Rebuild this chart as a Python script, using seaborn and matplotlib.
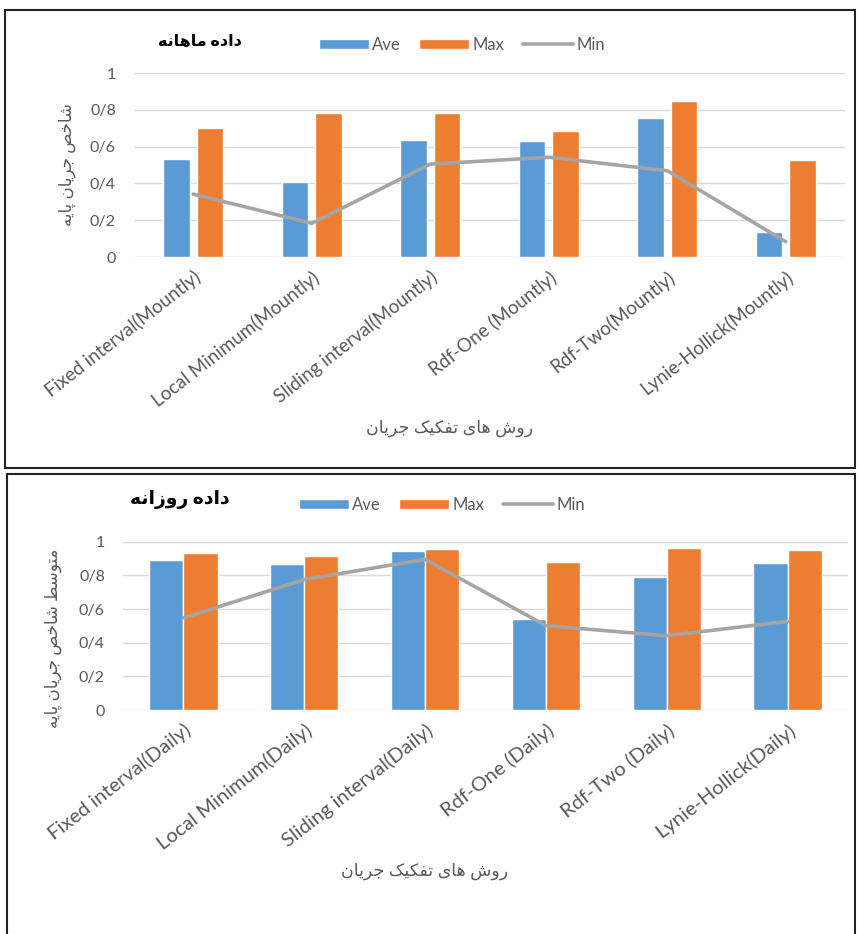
import numpy as np
import pandas as pd
import matplotlib
matplotlib.use("Agg")
import matplotlib.pyplot as plt
import seaborn as sns
from matplotlib.patches import Patch, Rectangle
from matplotlib.lines import Line2D

# values
monthly_methods = ["Fixed interval(Mountly)", "Local Minimum(Mountly)", "Sliding interval(Mountly)",
                   "Rdf-One (Mountly)", "Rdf-Two(Mountly)", "Lynie-Hollick(Mountly)"]
monthly_ave = [0.53, 0.41, 0.635, 0.63, 0.755, 0.135]
monthly_max = [0.70, 0.785, 0.78, 0.686, 0.848, 0.525]
monthly_min = [0.342, 0.183, 0.505, 0.542, 0.469, 0.083]

daily_methods = ["Fixed interval(Daily)", "Local Minimum(Daily)", "Sliding interval(Daily)",
                 "Rdf-One (Daily)", "Rdf-Two (Daily)", "Lynie-Hollick(Daily)"]
daily_ave = [0.889, 0.865, 0.942, 0.543, 0.789, 0.873]
daily_max = [0.934, 0.918, 0.958, 0.881, 0.964, 0.950]
daily_min = [0.547, 0.775, 0.895, 0.501, 0.441, 0.527]

yticks = [0, 0.2, 0.4, 0.6, 0.8, 1]
ytick_labels = ["0", "0/2", "0/4", "0/6", "0/8", "1"]
series_names = ["Ave", "Max", "Min"]

monthly_title = "داده ماهانه"
daily_title = "داده روزانه"
monthly_ylabel = "شاخص جریان پایه"
daily_ylabel = "متوسط شاخص جریان پایه"
xlabel_fa = "روش های تفکیک جریان"

BLUE = "#5B9BD5"
ORANGE = "#ED7D31"
GRAY = "#A5A5A5"
TXT = "#595959"

# matplotlib has no arabic shaping, so pick presentation forms by hand
# (isolated, final[, initial, medial])
FORMS = {
    "ا": "\uFE8D\uFE8E", "د": "\uFEA9\uFEAA", "ر": "\uFEAD\uFEAE",
    "ز": "\uFEAF\uFEB0", "و": "\uFEED\uFEEE",
    "ه": "\uFEE9\uFEEA\uFEEB\uFEEC", "م": "\uFEE1\uFEE2\uFEE3\uFEE4",
    "ن": "\uFEE5\uFEE6\uFEE7\uFEE8", "ش": "\uFEB5\uFEB6\uFEB7\uFEB8",
    "خ": "\uFEA5\uFEA6\uFEA7\uFEA8", "ص": "\uFEB9\uFEBA\uFEBB\uFEBC",
    "ج": "\uFE9D\uFE9E\uFE9F\uFEA0", "\u06CC": "\uFBFC\uFBFD\uFBFE\uFBFF",
    "پ": "\uFB56\uFB57\uFB58\uFB59", "ت": "\uFE95\uFE96\uFE97\uFE98",
    "س": "\uFEB1\uFEB2\uFEB3\uFEB4", "ط": "\uFEC1\uFEC2\uFEC3\uFEC4",
    "ف": "\uFED1\uFED2\uFED3\uFED4", "\u06A9": "\uFB8E\uFB8F\uFB90\uFB91",
}


def fa(text):
    text = text.replace("\u064A", "\u06CC").replace("\u0643", "\u06A9")
    out = []
    for i, ch in enumerate(text):
        if ch not in FORMS:
            out.append(ch)
            continue
        f = FORMS[ch]
        prev = text[i - 1] if i > 0 else ""
        nxt = text[i + 1] if i + 1 < len(text) else ""
        jp = prev in FORMS and len(FORMS[prev]) == 4
        jn = len(f) == 4 and nxt in FORMS
        if jp and jn:
            out.append(f[3])
        elif jp:
            out.append(f[1])
        elif jn:
            out.append(f[2])
        else:
            out.append(f[0])
    return "".join(out)[::-1]


sns.set_style("white")
plt.rcParams["font.family"] = ["Lato", "DejaVu Sans"]

fig = plt.figure(figsize=(8.58, 9.34), dpi=100)
W, H = 858, 934


def draw_panel(rect, methods, ave, mx, mn, width, gap, tick_fs):
    ax = fig.add_axes(rect)
    df = pd.DataFrame({
        "method": methods * 2,
        "stat": ["Ave"] * len(methods) + ["Max"] * len(methods),
        "value": ave + mx,
    })
    sns.barplot(data=df, x="method", y="value", hue="stat", palette=[BLUE, ORANGE],
                width=width, gap=gap, saturation=1, errorbar=None, legend=False, ax=ax)
    sns.lineplot(x=np.arange(len(methods)), y=mn, color=GRAY, linewidth=2.6, ax=ax)
    ax.set_xlim(-0.5, len(methods) - 0.5)
    ax.set_ylim(0, 1)
    ax.set_yticks(yticks)
    ax.set_yticklabels(ytick_labels, color=TXT, fontsize=11.5)
    ax.set_xticks(range(len(methods)))
    ax.set_xticklabels(methods, rotation=38, ha="right", rotation_mode="anchor",
                       color=TXT, fontsize=tick_fs)
    ax.tick_params(axis="y", length=0, pad=13)
    ax.tick_params(axis="x", length=0, pad=8)
    ax.set_xlabel("")
    ax.set_ylabel("")
    ax.yaxis.grid(True, color="#D9D9D9", lw=1)
    ax.set_axisbelow(True)
    for s in ax.spines.values():
        s.set_visible(False)
    return ax


draw_panel([134 / W, 1 - 257 / H, 711 / W, 184 / H], monthly_methods,
           monthly_ave, monthly_max, monthly_min, 0.56, 0.2, 13.5)
draw_panel([123 / W, 1 - 710 / H, 725 / W, 168.3 / H], daily_methods,
           daily_ave, daily_max, daily_min, 0.565, 0, 14.5)

handles = [Patch(fc=BLUE), Patch(fc=ORANGE), Line2D([], [], color=GRAY, lw=2.6)]
for cx, cy in [(462, 45), (442, 505)]:
    fig.legend(handles, series_names, loc="center", bbox_to_anchor=(cx / W, 1 - cy / H),
               ncol=3, frameon=False, handlelength=3.0, handleheight=0.6,
               columnspacing=1.1, handletextpad=0.2, fontsize=12, labelcolor=TXT)

# titles, axis labels
fig.text(200 / W, 1 - 42 / H, fa(monthly_title), ha="center", va="center",
         fontsize=11.5, fontweight="bold", color="black")
fig.text(180 / W, 1 - 499 / H, fa(daily_title), ha="center", va="center",
         fontsize=13.5, fontweight="bold", color="black")
fig.text(67 / W, 1 - 165 / H, fa(monthly_ylabel), rotation=90, ha="center", va="center",
         fontsize=12, color=TXT)
fig.text(53 / W, 1 - 638 / H, fa(daily_ylabel), rotation=90, ha="center", va="center",
         fontsize=12, color=TXT)
fig.text(450 / W, 1 - 428 / H, fa(xlabel_fa), ha="center", va="center", fontsize=12.5, color=TXT)
fig.text(425 / W, 1 - 871 / H, fa(xlabel_fa), ha="center", va="center", fontsize=12.5, color=TXT)

# panel frames
fig.patches.append(Rectangle((5 / W, 1 - 468 / H), 850 / W, 458 / H, transform=fig.transFigure,
                             fill=False, ec="#222222", lw=1.5))
fig.patches.append(Rectangle((7 / W, -0.01), 848 / W, 1 - 474 / H + 0.01, transform=fig.transFigure,
                             fill=False, ec="#222222", lw=1.5))

fig.savefig("out.png", dpi=100)
